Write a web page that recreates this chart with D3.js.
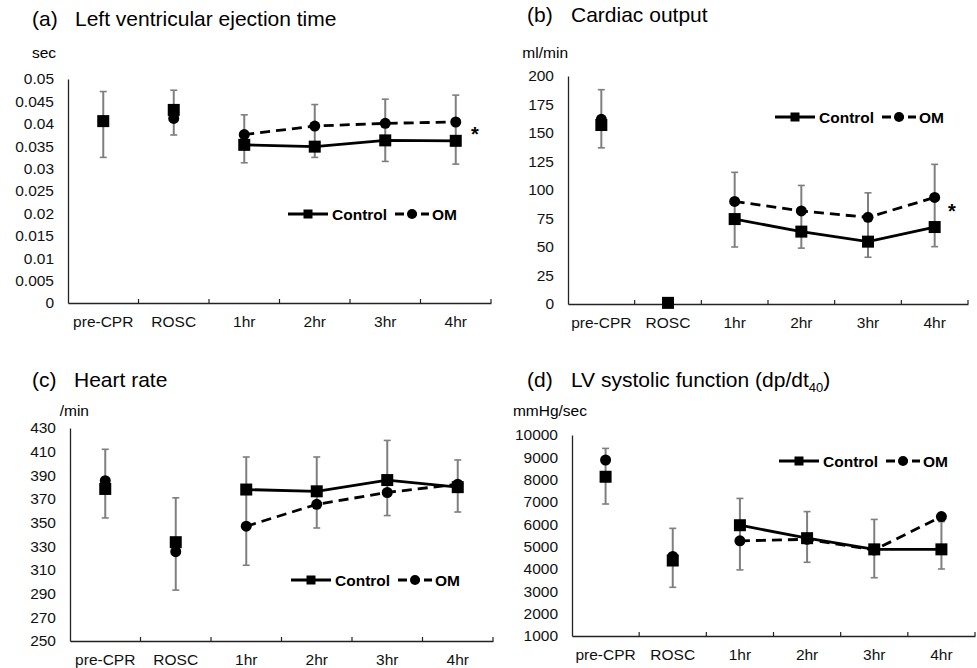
<!DOCTYPE html>
<html>
<head>
<meta charset="utf-8">
<script src="https://cdn.jsdelivr.net/npm/d3@7"></script>
<style>
  body { margin: 0; background: #fff; }
  text { font-family: "Liberation Sans", Arial, sans-serif; }
</style>
</head>
<body>
<div id="chart-area"></div>
<script>
// categories shared by all four panels
var categories = ["pre-CPR", "ROSC", "1hr", "2hr", "3hr", "4hr"];

// (a) left ventricular ejection time, sec
var lvetControl = [0.0406, 0.0431, 0.0353, 0.0349, 0.0363, 0.0362];
var lvetOM      = [0.0406, 0.0412, 0.0376, 0.0395, 0.0401, 0.0404];
var lvetErrLow  = [0.0325, 0.0375, 0.0313, 0.0325, 0.0316, 0.0310];
var lvetErrHigh = [0.0472, 0.0475, 0.0420, 0.0443, 0.0455, 0.0464];
var lvetTicks   = [0, 0.005, 0.01, 0.015, 0.02, 0.025, 0.03, 0.035, 0.04, 0.045, 0.05];

// (b) cardiac output, ml/min
var coControl = [157, 1, 74.5, 63.5, 54.7, 67.5];
var coOM      = [162, 1, 90, 81.6, 76, 93.5];
var coErrLow  = [137, 1, 50, 49, 41, 50.3];
var coErrHigh = [188, 1, 115.5, 104, 97.5, 122.5];
var coTicks   = [0, 25, 50, 75, 100, 125, 150, 175, 200];

// (c) heart rate, /min
var hrControl = [378.5, 333.5, 378, 376.5, 386, 380];
var hrOM      = [385.5, 325.5, 347, 365.5, 375.5, 382.5];
var hrErrLow  = [354, 293, 314, 345.5, 356, 359];
var hrErrHigh = [412, 371, 405.5, 405.5, 419.5, 403];
var hrTicks   = [250, 270, 290, 310, 330, 350, 370, 390, 410, 430];

// (d) LV systolic function dp/dt40, mmHg/sec
var dpControl = [8130, 4380, 5960, 5380, 4880, 4880];
var dpOM      = [8880, 4560, 5260, 5330, 4850, 6350];
var dpErrLow  = [6910, 3180, 3960, 4300, 3610, 4000];
var dpErrHigh = [9400, 5820, 7160, 6570, 6220, 6120];
var dpTicks   = [1000, 2000, 3000, 4000, 5000, 6000, 7000, 8000, 9000, 10000];

var panels = [
  { tag: "(a)", title: "Left ventricular ejection time", unit: "sec",
    control: lvetControl, om: lvetOM, lo: lvetErrLow, hi: lvetErrHigh, ticks: lvetTicks,
    x0: 68, x1: 491, yTop: 79, yBot: 303, titleX: 32, textX: 75, titleY: 26, unitX: 56, unitY: 58,
    legendX: 288, legendY: 214, star: [475, 141], fmt: d3.format("~g") },
  { tag: "(b)", title: "Cardiac output", unit: "ml/min",
    control: coControl, om: coOM, lo: coErrLow, hi: coErrHigh, ticks: coTicks,
    x0: 568, x1: 968, yTop: 76, yBot: 304, titleX: 527, textX: 571, titleY: 22, unitX: 568, unitY: 58,
    legendX: 775, legendY: 117, star: [952, 218], fmt: d3.format("d") },
  { tag: "(c)", title: "Heart rate", unit: "/min",
    control: hrControl, om: hrOM, lo: hrErrLow, hi: hrErrHigh, ticks: hrTicks,
    x0: 70, x1: 493, yTop: 428, yBot: 641, titleX: 32, textX: 74, titleY: 387, unitX: 89, unitY: 416,
    legendX: 291, legendY: 580, star: null, fmt: d3.format("d") },
  { tag: "(d)", title: "LV systolic function (dp/dt", sub: "40", unit: "mmHg/sec",
    control: dpControl, om: dpOM, lo: dpErrLow, hi: dpErrHigh, ticks: dpTicks,
    x0: 572, x1: 975, yTop: 435, yBot: 636, titleX: 527, textX: 571, titleY: 387, unitX: 587, unitY: 416,
    legendX: 779, legendY: 461, star: null, fmt: d3.format("d") }
];

var svg = d3.select("#chart-area")
  .append("svg")
    .attr("width", 977)
    .attr("height", 668);

var hrIdx = [2, 3, 4, 5];  // only the hourly points are joined by lines

panels.forEach(function(p) {
  var g = svg.append("g");

  var x = d3.scaleBand().domain(categories).range([p.x0, p.x1]);
  var y = d3.scaleLinear().domain([p.ticks[0], p.ticks[p.ticks.length - 1]]).range([p.yBot, p.yTop]);
  var cx = function(i) { return x(categories[i]) + x.bandwidth() / 2; };

  // title
  g.append("text").attr("x", p.titleX).attr("y", p.titleY)
    .style("font-size", "21px").text(p.tag);
  var t = g.append("text").attr("x", p.textX).attr("y", p.titleY).style("font-size", "21px");
  t.append("tspan").text(p.title);
  if (p.sub) {
    t.append("tspan").attr("dy", 5).style("font-size", "13px").text(p.sub);
    t.append("tspan").attr("dy", -5).text(")");
  }

  // unit label
  g.append("text").attr("x", p.unitX).attr("y", p.unitY)
    .attr("text-anchor", "end").style("font-size", "15.5px").text(p.unit);

  // y axis
  var yAxis = g.append("g").attr("transform", "translate(" + p.x0 + ",0)")
    .call(d3.axisLeft(y).tickValues(p.ticks).tickSize(0).tickPadding(14).tickFormat(p.fmt));
  yAxis.select(".domain").attr("stroke", "#222").attr("stroke-width", 1.3);
  yAxis.selectAll("text").style("font-size", "15.5px").attr("fill", "#111")
    .style("font-family", "'Liberation Sans', Arial, sans-serif");

  // x axis
  var xAxis = g.append("g").attr("transform", "translate(0," + p.yBot + ")")
    .call(d3.axisBottom(x).tickSize(0).tickPadding(13));
  xAxis.select(".domain").attr("stroke", "#222").attr("stroke-width", 1.3);
  xAxis.selectAll("text").style("font-size", "15.5px").attr("fill", "#111")
    .style("font-family", "'Liberation Sans', Arial, sans-serif");
  // category boundary ticks
  g.selectAll(".bt").data(d3.range(1, categories.length + 1)).enter().append("line")
    .attr("x1", function(i) { return p.x0 + i * x.bandwidth(); })
    .attr("x2", function(i) { return p.x0 + i * x.bandwidth(); })
    .attr("y1", p.yBot).attr("y2", p.yBot - 4)
    .attr("stroke", "#222").attr("stroke-width", 1.2);

  // error bars
  var eb = g.selectAll(".eb").data(categories).enter().append("g");
  eb.append("line")
    .attr("x1", function(d, i) { return cx(i); }).attr("x2", function(d, i) { return cx(i); })
    .attr("y1", function(d, i) { return y(p.lo[i]); }).attr("y2", function(d, i) { return y(p.hi[i]); })
    .attr("stroke", "#7f7f7f").attr("stroke-width", 2);
  [p.lo, p.hi].forEach(function(arr) {
    eb.append("line")
      .attr("x1", function(d, i) { return cx(i) - 3.5; }).attr("x2", function(d, i) { return cx(i) + 3.5; })
      .attr("y1", function(d, i) { return y(arr[i]); }).attr("y2", function(d, i) { return y(arr[i]); })
      .attr("stroke", "#7f7f7f").attr("stroke-width", 1.6);
  });

  // lines
  var line = d3.line().x(function(i) { return cx(i); });
  g.append("path").datum(hrIdx)
    .attr("d", line.y(function(i) { return y(p.om[i]); }))
    .attr("fill", "none").attr("stroke", "#000").attr("stroke-width", 2.8)
    .attr("stroke-dasharray", "10,6");
  g.append("path").datum(hrIdx)
    .attr("d", line.y(function(i) { return y(p.control[i]); }))
    .attr("fill", "none").attr("stroke", "#000").attr("stroke-width", 2.8);

  // markers
  g.selectAll(".om").data(p.om).enter().append("circle")
    .attr("cx", function(d, i) { return cx(i); }).attr("cy", function(d) { return y(d); })
    .attr("r", 5.5).attr("fill", "#000");
  g.selectAll(".ctl").data(p.control).enter().append("rect")
    .attr("x", function(d, i) { return cx(i) - 6; }).attr("y", function(d) { return y(d) - 6; })
    .attr("width", 12).attr("height", 12).attr("fill", "#000");

  // legend
  var lg = g.append("g").attr("transform", "translate(" + p.legendX + "," + p.legendY + ")");
  lg.append("line").attr("x1", 0).attr("x2", 40).attr("y1", 0).attr("y2", 0)
    .attr("stroke", "#000").attr("stroke-width", 3);
  lg.append("rect").attr("x", 15.5).attr("y", -4.5).attr("width", 9).attr("height", 9).attr("fill", "#000");
  lg.append("text").attr("x", 44).attr("y", 5.5).style("font-size", "15.5px")
    .style("font-weight", "bold").text("Control");
  lg.append("line").attr("x1", 107).attr("x2", 141).attr("y1", 0).attr("y2", 0)
    .attr("stroke", "#000").attr("stroke-width", 3).attr("stroke-dasharray", "9,4");
  lg.append("circle").attr("cx", 124).attr("cy", 0).attr("r", 5).attr("fill", "#000");
  lg.append("text").attr("x", 144).attr("y", 5.5).style("font-size", "15.5px")
    .style("font-weight", "bold").text("OM");

  if (p.star) {
    g.append("text").attr("x", p.star[0]).attr("y", p.star[1])
      .attr("text-anchor", "middle").style("font-size", "20px").style("font-weight", "bold").text("*");
  }
});
</script>
</body>
</html>
